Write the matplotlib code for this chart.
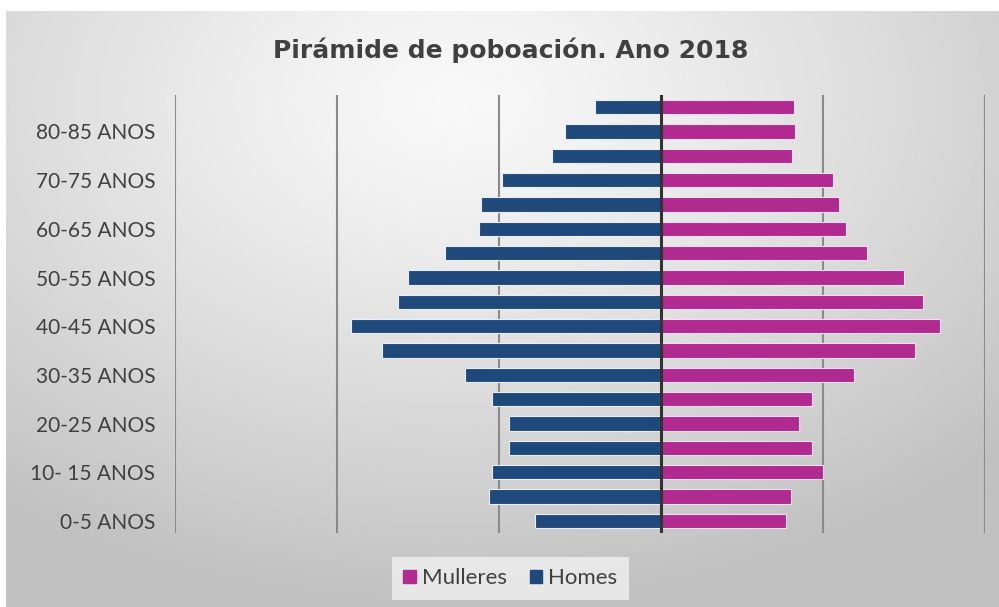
import numpy as np
import matplotlib
matplotlib.use("Agg")
import matplotlib.pyplot as plt
from matplotlib.patches import Patch

# age groups, bottom to top
grupos = ['0-5 ANOS', '5-10 ANOS', '10- 15 ANOS', '15-20 ANOS', '20-25 ANOS', '25-30 ANOS',
          '30-35 ANOS', '35-40 ANOS', '40-45 ANOS', '45-50 ANOS', '50-55 ANOS', '55-60 ANOS',
          '60-65 ANOS', '65-70 ANOS', '70-75 ANOS', '75-80 ANOS', '80-85 ANOS', '+85 ANOS']
homes = [78, 106, 104, 94, 94, 104, 121, 172, 191, 162, 156, 133, 112, 111, 98, 67, 59, 41]
mulleres = [77, 80, 100, 93, 85, 93, 119, 157, 172, 162, 150, 127, 114, 110, 106, 81, 83, 82]

c_homes = '#1f487b'
c_mulleres = '#b02a8f'
txt = '#404040'
lab_font = ['Lato', 'DejaVu Sans']

fig = plt.figure(figsize=(9.99, 6.07), dpi=100, facecolor='white')

# gradient background panel
bg = fig.add_axes([0.006, 0.0, 0.994, 0.982])
bg.set_axis_off()
yy, xx = np.mgrid[0:1:300j, 0:1:500j]
r = np.sqrt(((xx - 0.45) / 0.9) ** 2 + ((yy - 0.15) / 1.0) ** 2)
r = np.clip(r / 0.85, 0, 1)
shade = 0.975 - 0.22 * r ** 1.2
bg.imshow(shade, cmap='gray', vmin=0, vmax=1, aspect='auto', extent=[0, 1, 1, 0])
bg.set_xlim(0, 1)
bg.set_ylim(1, 0)

ax = fig.add_axes([0.175, 0.1219, 0.811, 0.7216])
ax.patch.set_alpha(0)
y = np.arange(len(grupos))
ax.barh(y, [-v for v in homes], height=0.58, color=c_homes, edgecolor='#e8eef6', linewidth=0.8, zorder=3)
ax.barh(y, mulleres, height=0.58, color=c_mulleres, edgecolor='#f6dcef', linewidth=0.8, zorder=3)

ax.set_xlim(-300, 200)
ax.set_ylim(-0.5, len(grupos) - 0.5)
for gx in [-300, -200, -100, 100, 200]:
    ax.axvline(gx, color='#8a8a8a', lw=1.5, zorder=1)
ax.axvline(0, color='#333333', lw=2.2, zorder=4)

for s in ax.spines.values():
    s.set_visible(False)
ax.set_xticks([])
ax.set_yticks(y[::2])
ax.set_yticklabels(grupos[::2], family=lab_font, fontsize=15, color=txt)
ax.tick_params(axis='y', length=0, pad=14)

fig.text(0.511, 0.918, 'Pirámide de poboación. Ano 2018', ha='center', va='center',
         fontsize=18, fontweight='bold', color=txt, family='DejaVu Sans')

handles = [Patch(color=c_mulleres, label='Mulleres'), Patch(color=c_homes, label='Homes')]
leg = fig.legend(handles=handles, loc='center', bbox_to_anchor=(0.511, 0.047), ncol=2,
                 frameon=True, fancybox=False, handlelength=0.55, handleheight=0.55,
                 handletextpad=0.3, columnspacing=1.0, borderpad=0.5,
                 prop={'family': lab_font, 'size': 16})
leg.get_frame().set_facecolor('#ececec')
leg.get_frame().set_edgecolor('none')
leg.get_frame().set_alpha(0.9)
for t in leg.get_texts():
    t.set_color(txt)

fig.savefig('out.png', dpi=100, facecolor='white')
